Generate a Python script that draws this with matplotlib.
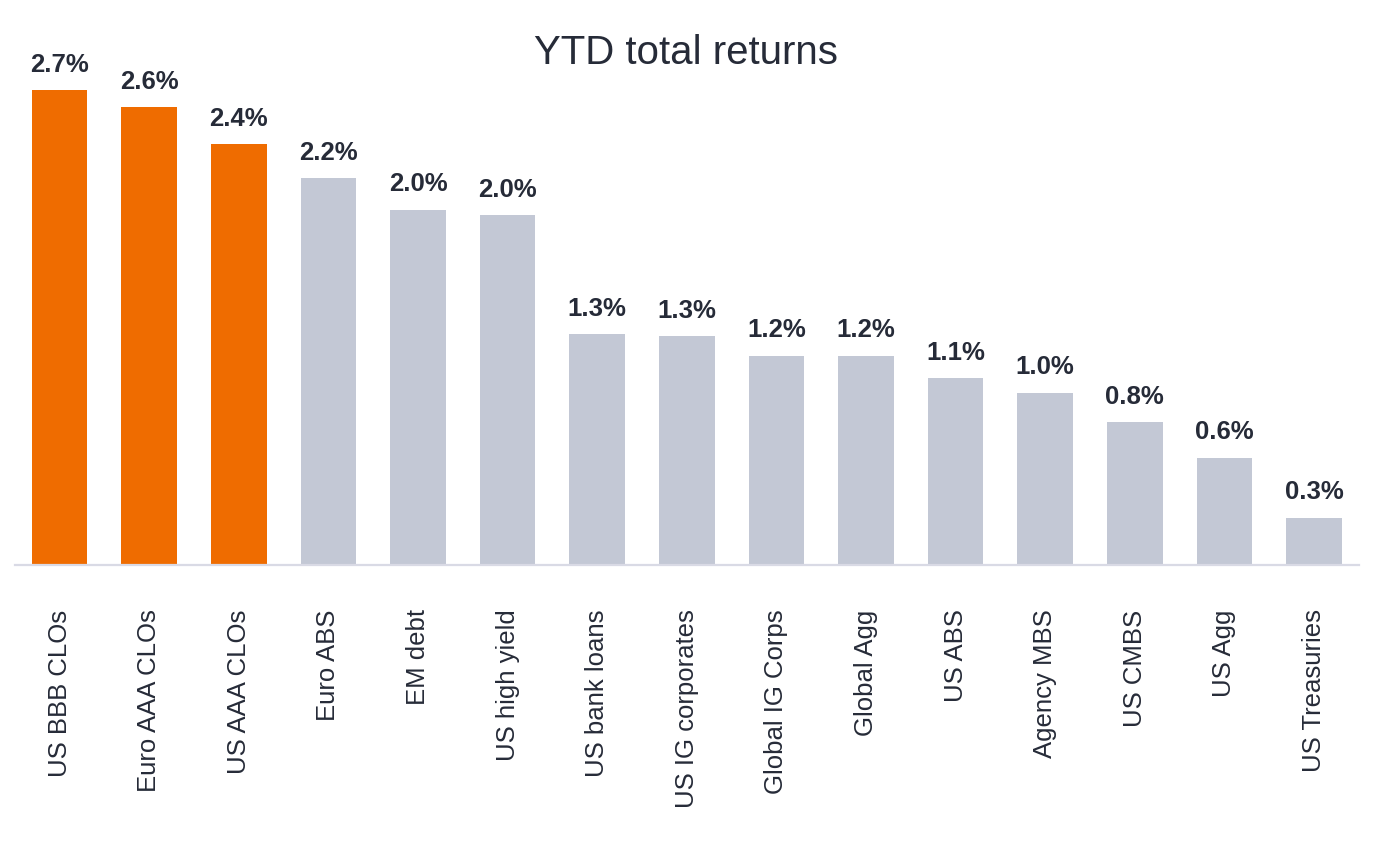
import matplotlib
matplotlib.use("Agg")
import matplotlib.pyplot as plt

categories = ["US BBB CLOs", "Euro AAA CLOs", "US AAA CLOs", "Euro ABS", "EM debt",
              "US high yield", "US bank loans", "US IG corporates", "Global IG Corps",
              "Global Agg", "US ABS", "Agency MBS", "US CMBS", "US Agg", "US Treasuries"]
values = [2.70, 2.60, 2.39, 2.20, 2.02, 1.99, 1.31, 1.30, 1.19, 1.19, 1.06, 0.98, 0.81, 0.61, 0.27]
highlight = [True, True, True] + [False] * 12

ORANGE = "#EF6C00"
GREY = "#C3C8D5"
TEXT = "#262B38"

plt.rcParams['font.family'] = ['Liberation Sans', 'DejaVu Sans']

fig = plt.figure(figsize=(13.9, 8.48), dpi=100)
ax = fig.add_axes([0.01058, 0.3337, 0.967, 0.6226])

x = list(range(len(categories)))
colors = [ORANGE if h else GREY for h in highlight]
bars = ax.bar(x, values, width=0.62, color=colors, zorder=2)

for xi, v in zip(x, values):
    ax.annotate(f"{v:.1f}%", (xi, v), xytext=(0, 9.5), textcoords="offset points",
                ha="center", va="bottom", fontsize=18.5, fontweight="bold", color=TEXT)

ax.set_xlim(-0.5, len(categories) - 0.5)
ax.set_ylim(0, 3.0)
ax.set_yticks([])
ax.set_xticks(x)
ax.set_xticklabels(categories, rotation=90, fontsize=18.5, color=TEXT)
ax.tick_params(axis="x", length=0, pad=32)
for s in ["top", "right", "left"]:
    ax.spines[s].set_visible(False)
ax.spines["bottom"].set_color("#D9DAE5")
ax.spines["bottom"].set_linewidth(1.6)

fig.text(0.4935, 0.938, "YTD total returns", ha="center", va="center", fontsize=29, color=TEXT)

fig.savefig("out.png", dpi=100, facecolor="white")
